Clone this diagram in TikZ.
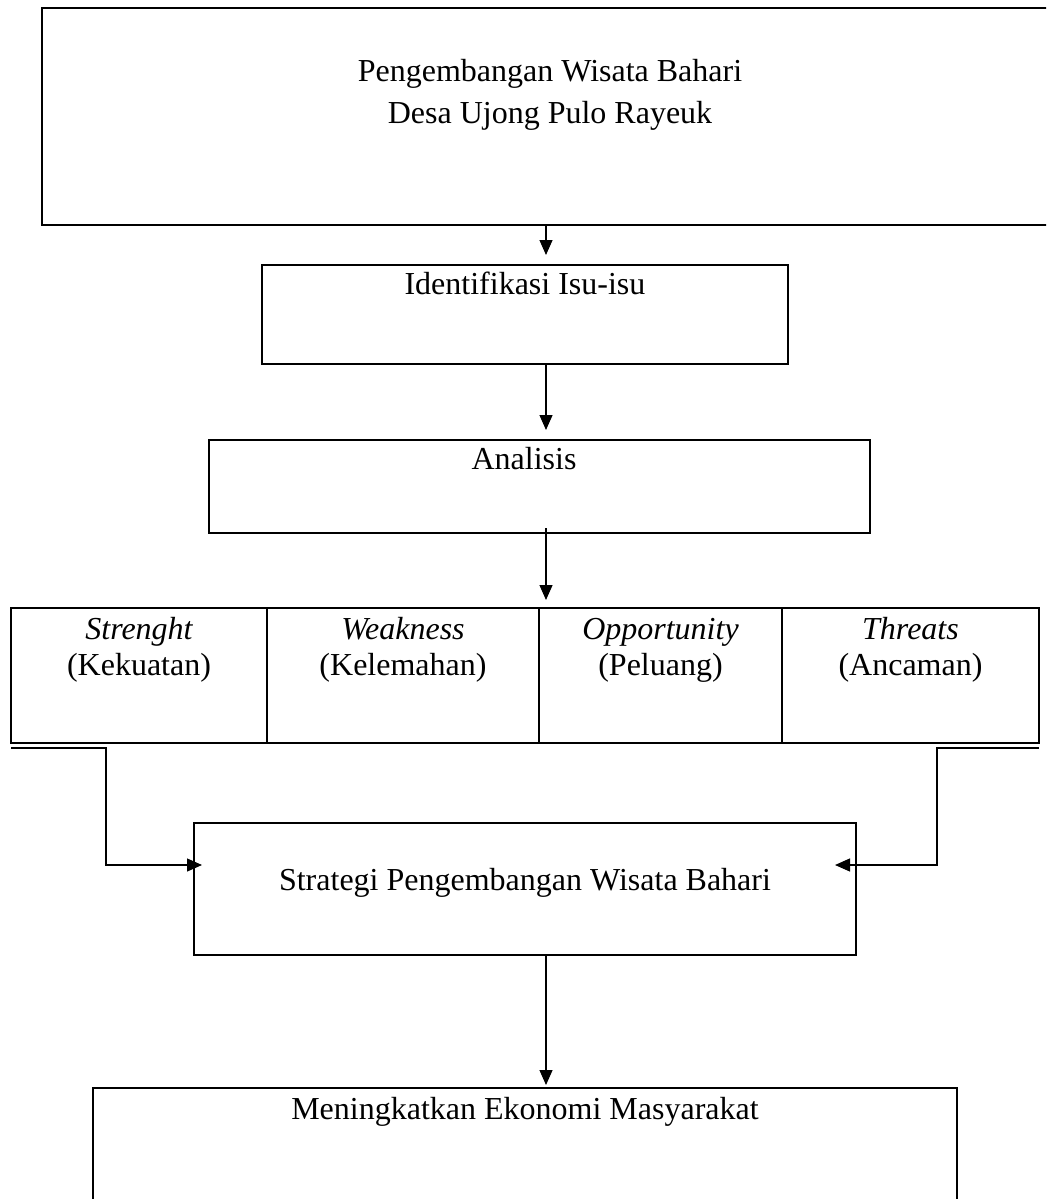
\documentclass[tikz,border=0pt]{standalone}
\usepackage{fontspec}
\setmainfont{Liberation Serif}
\usetikzlibrary{arrows.meta,calc}
\begin{document}
\begin{tikzpicture}[x=0.5pt,y=-0.5pt,
  box/.style={draw,line width=1pt,rectangle,inner sep=0pt,outer sep=0pt},
  txt/.style={anchor=base,inner sep=0pt,font=\fontsize{16}{19}\selectfont},
  conn/.style={line width=0.6pt},
  arr/.style={conn,-{Triangle[length=7.5pt,width=6.5pt]}}]
\useasboundingbox (0,0) rectangle (1046,1199);
\clip (0,0) rectangle (1046,1199);
% boxes
\node[box,minimum width=508pt,minimum height=108.5pt] (top) at (550,116.5) {};
\node[box,minimum width=263pt,minimum height=49.5pt] (ident) at (525,314.5) {};
\node[box,minimum width=330.5pt,minimum height=46.5pt] (ana) at (539.5,486.5) {};
\node[box,minimum width=128pt,minimum height=67.5pt] (S) at (139,675.5) {};
\node[box,minimum width=136pt,minimum height=67.5pt] (W) at (403,675.5) {};
\node[box,minimum width=121.5pt,minimum height=67.5pt] (O) at (660.5,675.5) {};
\node[box,minimum width=128.5pt,minimum height=67.5pt] (T) at (910.5,675.5) {};
\node[box,minimum width=331pt,minimum height=66pt] (strat) at (525,889) {};
\node[box,minimum width=432pt,minimum height=66pt] (men) at (525,1154) {};
% texts
\node[txt] (t1) at (550,81) {Pengembangan Wisata Bahari};
\node[txt] (t2) at (550,123) {Desa Ujong Pulo Rayeuk};
\node[txt] (ti) at (525,294) {Identifikasi Isu-isu};
\node[txt] (ta) at (524,469) {Analisis};
\node[txt] (s1) at (139,639) {\itshape Strenght};
\node[txt] (s2) at (139,675) {(Kekuatan)};
\node[txt] (w1) at (403,639) {\itshape Weakness};
\node[txt] (w2) at (403,675) {(Kelemahan)};
\node[txt] (o1) at (660.5,639) {\itshape Opportunity};
\node[txt] (o2) at (660.5,675) {(Peluang)};
\node[txt] (h1) at (910.5,639) {\itshape Threats};
\node[txt] (h2) at (910.5,675) {(Ancaman)};
\node[txt] (ts) at (525,890) {Strategi Pengembangan Wisata Bahari};
\node[txt] (tm) at (525,1119) {Meningkatkan Ekonomi Masyarakat};
% connectors
\coordinate (ax) at (546,0);
\draw[arr,shorten >=5pt] (top.south -| ax) -- (ident.north -| ax);
\draw[arr,shorten >=5pt] (ident.south -| ax) -- (ana.north -| ax);
\draw[arr,shorten >=4pt,shorten <=-2.5pt] (ana.south -| ax) -- (O.north -| ax);
\draw[arr,shorten >=1.5pt] (strat.south -| ax) -- (men.north -| ax);
\coordinate (kl) at (106,865);
\coordinate (sl) at (202,865);
\coordinate (kr) at (937,865);
\coordinate (sr) at (835,865);
\draw[arr] ([yshift=-2.5pt]S.south west) -| (kl) -- (sl);
\draw[arr] ([yshift=-2.5pt]T.south east) -| (kr) -- (sr);
\end{tikzpicture}
\end{document}
